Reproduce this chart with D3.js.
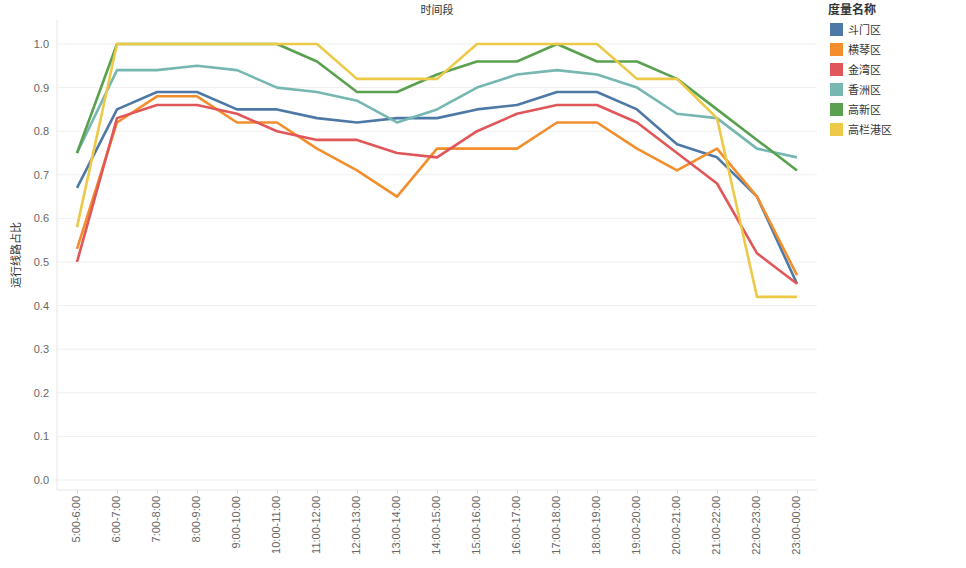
<!DOCTYPE html>
<html><head><meta charset="utf-8">
<script src="https://cdn.jsdelivr.net/npm/d3@7"></script>
<style>body{margin:0;background:#fff;font-family:"Noto Sans CJK SC","Noto Sans",sans-serif;}</style>
</head><body><svg id="c" width="966" height="568"></svg>
<script>
const categories = ['5:00-6:00','6:00-7:00','7:00-8:00','8:00-9:00','9:00-10:00','10:00-11:00','11:00-12:00','12:00-13:00','13:00-14:00','14:00-15:00','15:00-16:00','16:00-17:00','17:00-18:00','18:00-19:00','19:00-20:00','20:00-21:00','21:00-22:00','22:00-23:00','23:00-00:00'];
const seriesNames = ['斗门区','横琴区','金湾区','香洲区','高新区','高栏港区'];
const colors = ['#4e79a7','#f28e2b','#e15759','#76b7b2','#59a14f','#edc948'];
const doumen = [.67,.85,.89,.89,.85,.85,.83,.82,.83,.83,.85,.86,.89,.89,.85,.77,.74,.65,.45];
const hengqin = [.53,.82,.88,.88,.82,.82,.76,.71,.65,.76,.76,.76,.82,.82,.76,.71,.76,.65,.47];
const jinwan = [.50,.83,.86,.86,.84,.80,.78,.78,.75,.74,.80,.84,.86,.86,.82,.75,.68,.52,.45];
const xiangzhou = [.75,.94,.94,.95,.94,.90,.89,.87,.82,.85,.90,.93,.94,.93,.90,.84,.83,.76,.74];
const gaoxin = [.75,1,1,1,1,1,.96,.89,.89,.93,.96,.96,1,.96,.96,.92,.85,.78,.71];
const gaolangang = [.58,1,1,1,1,1,1,.92,.92,.92,1,1,1,1,.92,.92,.83,.42,.42];
const seriesValues = [doumen,hengqin,jinwan,xiangzhou,gaoxin,gaolangang];
const yTicks = [0,.1,.2,.3,.4,.5,.6,.7,.8,.9,1];

const svg = d3.select('#c');
const x = d3.scalePoint().domain(categories).range([77,797]);
const y = d3.scaleLinear().domain([0,1]).range([480,44]);

// gridlines
svg.append('g').selectAll('line').data(yTicks).enter().append('line')
  .attr('x1',57).attr('x2',817).attr('y1',d=>y(d)).attr('y2',d=>y(d))
  .attr('stroke','#efefef');
svg.append('line').attr('x1',57).attr('x2',57).attr('y1',20).attr('y2',490).attr('stroke','#e6e6e6');
svg.append('line').attr('x1',57).attr('x2',817).attr('y1',490).attr('y2',490).attr('stroke','#e6e6e6');

const yAxis = svg.append('g').attr('transform','translate(57,0)')
  .call(d3.axisLeft(y).tickValues(yTicks).tickFormat(d3.format('.1f')).tickSize(0).tickPadding(8));
yAxis.select('.domain').remove();
yAxis.selectAll('text').attr('fill','#666').style('font-size','11px');

const xAxis = svg.append('g').attr('transform','translate(0,490)')
  .call(d3.axisBottom(x).tickSize(4));
xAxis.select('.domain').remove();
xAxis.selectAll('line').attr('stroke','#ddd');
xAxis.selectAll('text').attr('fill','#666').style('font-size','11px')
  .attr('transform','rotate(-90)').attr('text-anchor','end').attr('x',-6).attr('y',-1).attr('dy','0.35em');

svg.append('text').attr('x',437).attr('y',14).attr('text-anchor','middle')
  .style('font-size','11px').attr('fill','#333').text('时间段');
svg.append('text').attr('transform','translate(20,255) rotate(-90)').attr('text-anchor','middle')
  .style('font-size','11px').attr('fill','#333').text('运行线路占比');

const line = d3.line().x((d,i)=>x(categories[i])).y(d=>y(d));
seriesValues.forEach((vals,i)=>{
  svg.append('path').datum(vals).attr('d',line).attr('fill','none')
    .attr('stroke',colors[i]).attr('stroke-width',2.6).attr('stroke-linejoin','round');
});

// legend
svg.append('text').attr('x',828).attr('y',14).style('font-size','12px').style('font-weight','bold')
  .attr('fill','#333').text('度量名称');
const lg = svg.append('g').selectAll('g').data(seriesNames).enter().append('g')
  .attr('transform',(d,i)=>`translate(830,${23+i*20})`);
lg.append('rect').attr('width',13).attr('height',13).attr('fill',(d,i)=>colors[i]);
lg.append('text').attr('x',18).attr('y',11).style('font-size','11px').attr('fill','#333').text(d=>d);
</script></body></html>
